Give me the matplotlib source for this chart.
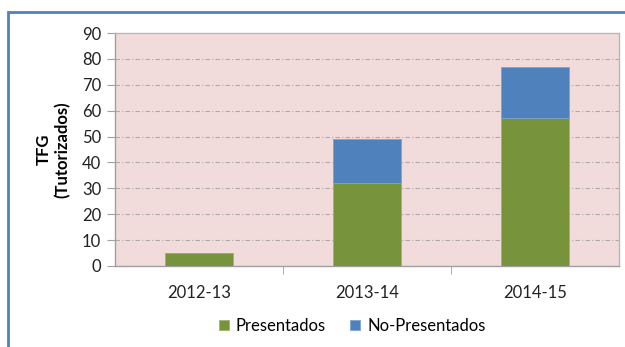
import matplotlib.pyplot as plt
from matplotlib.patches import Rectangle

cursos = ['2012-13', '2013-14', '2014-15']
presentados = [5, 32, 57]
no_presentados = [0, 17, 20]

plt.rcParams['font.family'] = ['Lato', 'DejaVu Sans']

W, H = 625, 347
fig = plt.figure(figsize=(W / 100, H / 100), dpi=100)
ax = fig.add_axes([115 / W, 1 - 266 / H, (619 - 115) / W, (266 - 33) / H])
ax.set_facecolor('#F2DCDB')

x = range(len(cursos))
ax.bar(x, presentados, width=0.4, color='#77933C', edgecolor='#9BB56A',
       linewidth=0.6, label='Presentados', zorder=3)
ax.bar(x, no_presentados, width=0.4, bottom=presentados, color='#4F81BD',
       edgecolor='#7FA3D0', linewidth=0.6, label='No-Presentados', zorder=3)

ax.set_xlim(-0.5, 2.5)
ax.set_ylim(0, 90)
ax.set_yticks(range(0, 91, 10))
ax.tick_params(axis='y', labelsize=12, labelcolor='#222222', length=6,
               color='#A0A0A0', pad=4)
ax.set_xticks([0, 1, 2])
ax.set_xticklabels(cursos, fontsize=12, color='#222222')
ax.tick_params(axis='x', length=0, pad=14)
# separadores entre categorias
ax.set_xticks([0.5, 1.5], minor=True)
ax.tick_params(axis='x', which='minor', length=6, color='#A0A0A0')

ax.yaxis.grid(True, linestyle=(0, (4, 2, 1, 2)), color='#B0A8A8', linewidth=0.8, zorder=1)
for s in ax.spines.values():
    s.set_color('#B8B8B8')
    s.set_linewidth(1)
ax.spines['left'].set_color('#A0A0A0')
ax.spines['bottom'].set_color('#A0A0A0')

ax.set_ylabel('TFG\n(Tutorizados)', fontsize=12, fontweight='bold', labelpad=8)

fig.legend(loc='center', bbox_to_anchor=(352 / W, 1 - 326 / H), ncol=2, frameon=False,
           fontsize=12, handlelength=0.6, handleheight=0.6, handletextpad=0.4,
           columnspacing=1.5)

# marco exterior del grafico
fig.patches.append(Rectangle((8 / W, -0.1), 1.2, 1 - 12 / H + 0.1, transform=fig.transFigure,
                             fill=False, edgecolor='#4F81BD', linewidth=2, zorder=10))

fig.savefig('out.png', dpi=100)
